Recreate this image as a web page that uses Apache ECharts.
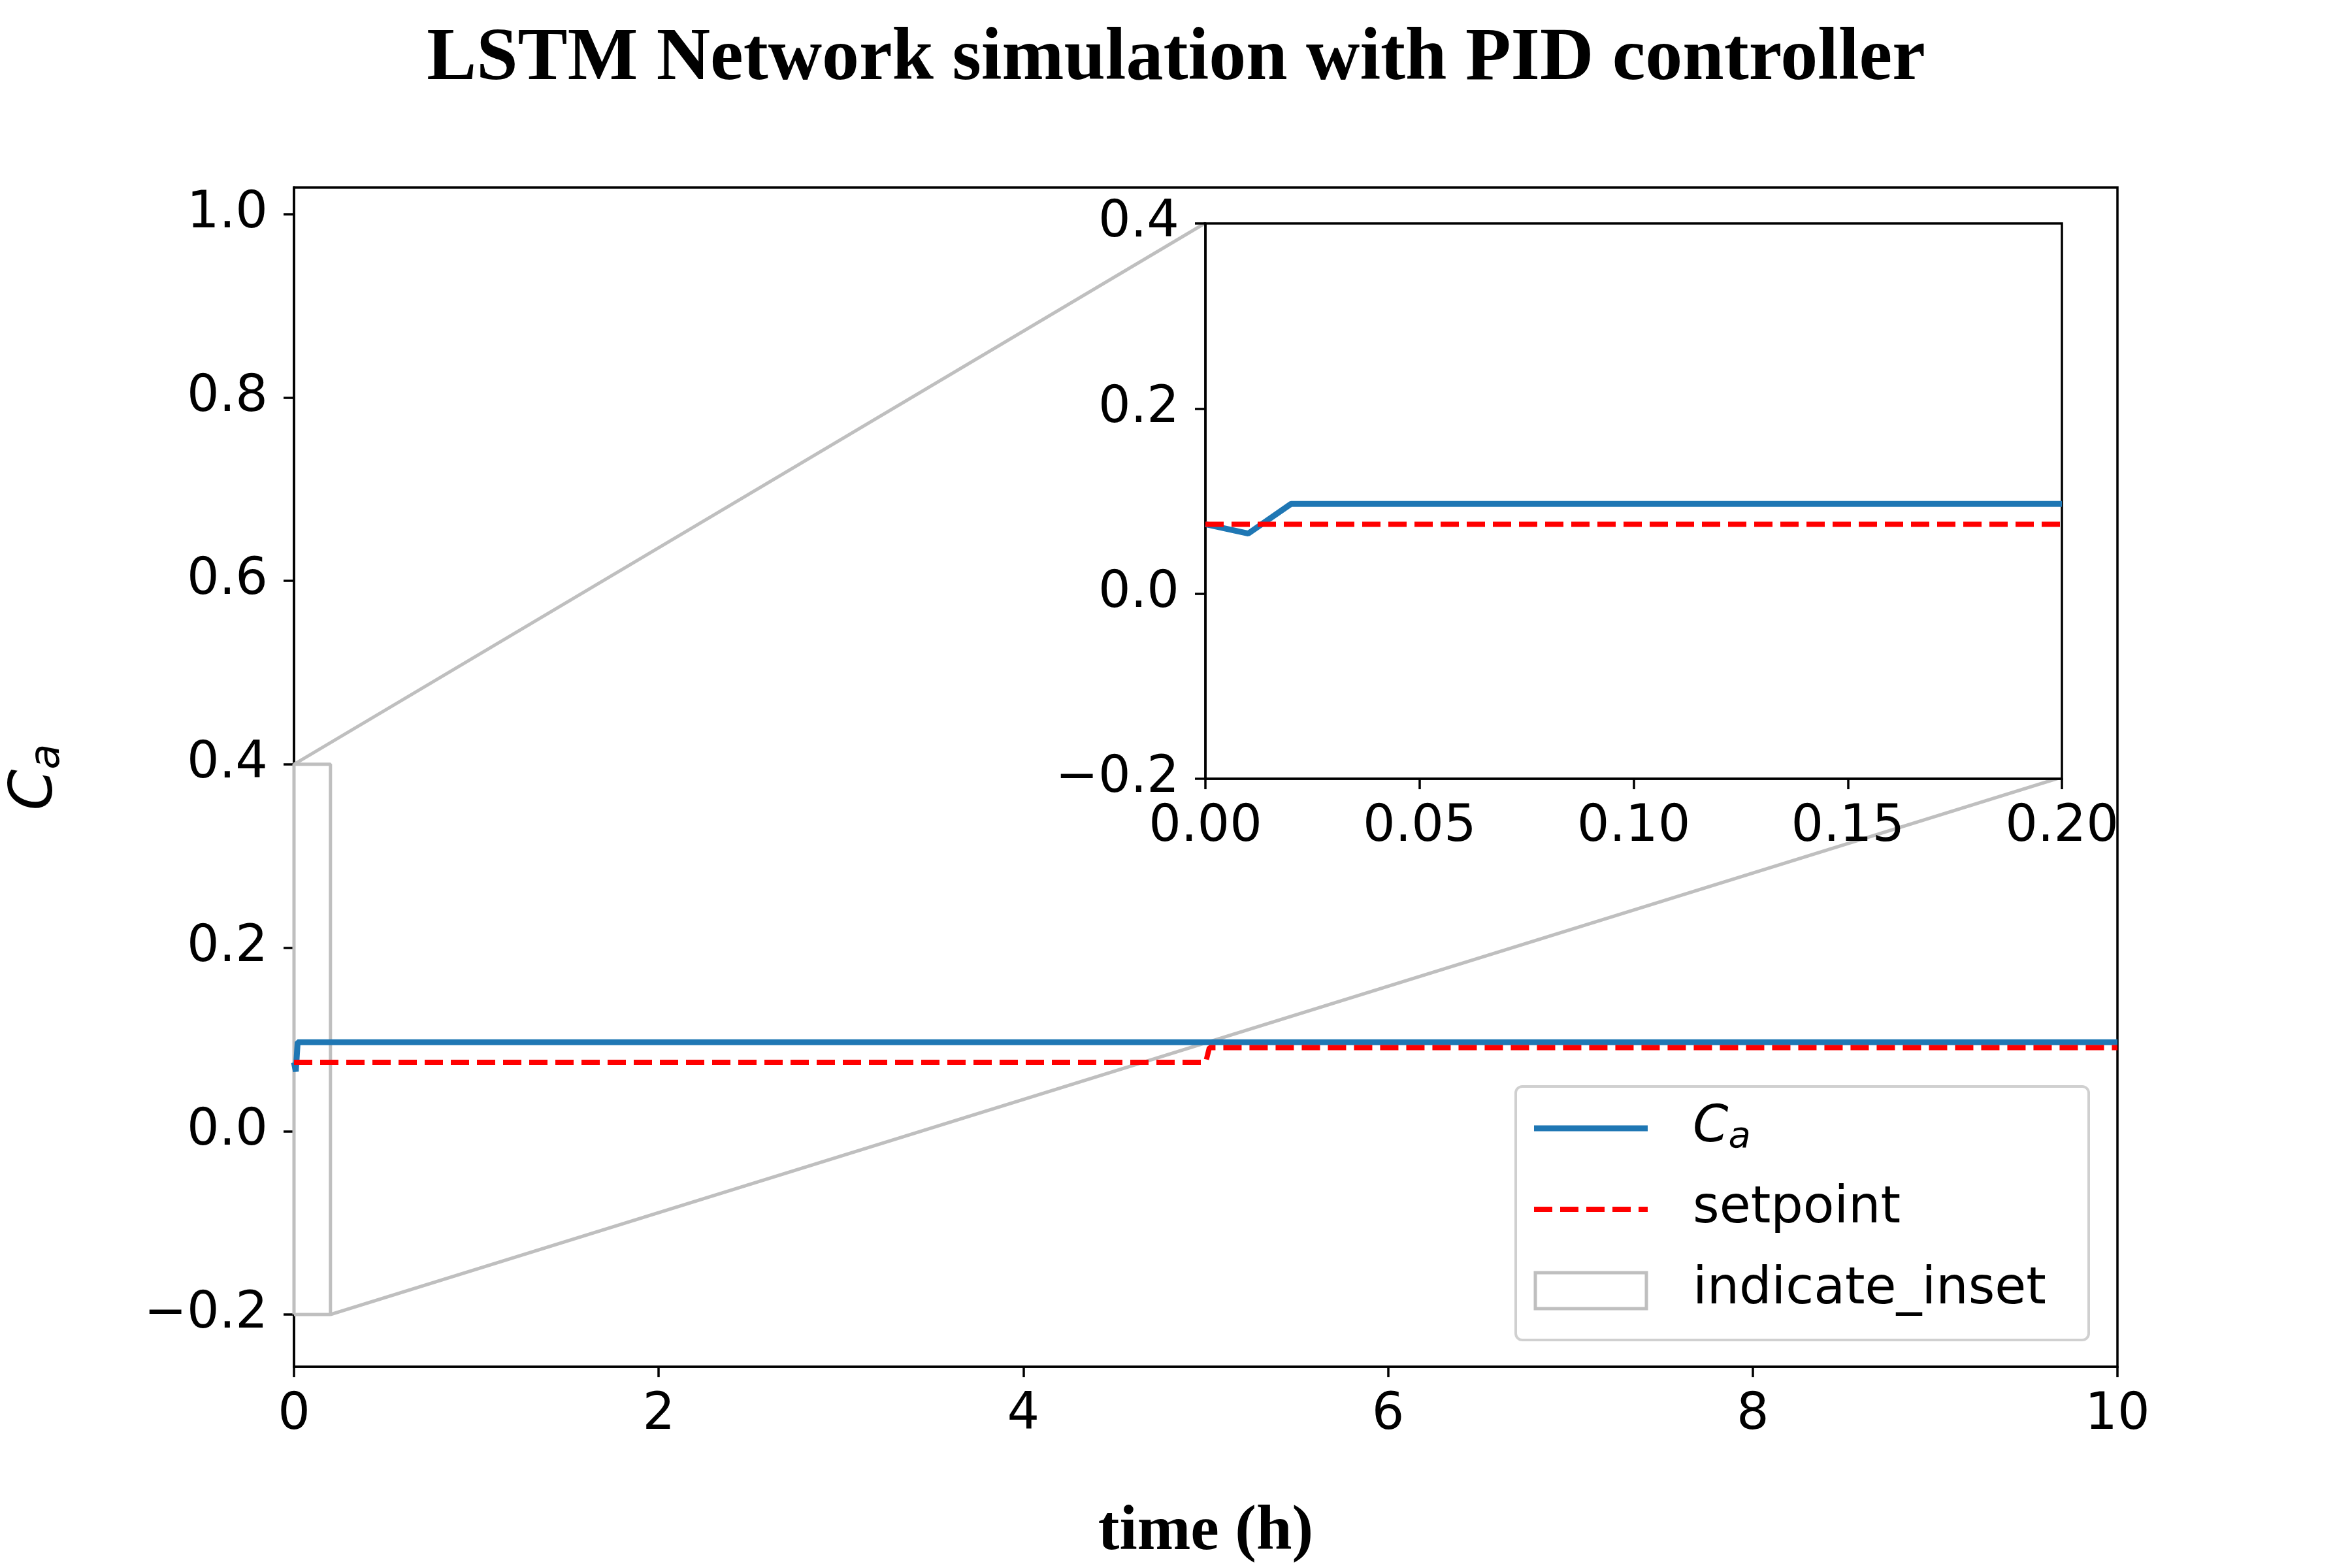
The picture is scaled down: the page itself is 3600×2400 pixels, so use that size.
<!DOCTYPE html>
<html>
<head>
<meta charset="UTF-8">
<title>LSTM Network simulation with PID controller</title>
<script src="https://cdn.jsdelivr.net/npm/echarts@6/dist/echarts.min.js"></script>
<style>
  html, body { margin: 0; padding: 0; background: #fff; }
  #chart { width: 3600px; height: 2400px; }
</style>
</head>
<body>
<div id="chart"></div>
<script>
// main plot data
const caMain = [[0, 0.075], [0.01, 0.065], [0.02, 0.097], [10, 0.097]];
const spMain = [[0, 0.075], [5.0, 0.075], [5.02, 0.091], [10, 0.091]];
// inset data (zoom 0..0.2)
const caInset = [[0, 0.075], [0.01, 0.065], [0.02, 0.097], [0.2, 0.097]];
const spInset = [[0, 0.075], [0.2, 0.075]];
// indicate_inset rectangle and connectors (main data coords)
const rectBox = [[0, -0.2], [0, 0.4], [0.2, 0.4], [0.2, -0.2], [0, -0.2]];
const connTop = [[0, 0.4], [4.996, 0.99]];
const connBottom = [[0.2, -0.2], [9.695, 0.386]];
const mainYTicks = [-0.2, 0, 0.2, 0.4, 0.6, 0.8, 1.0];
const mainXTicks = [0, 2, 4, 6, 8, 10];
const insetYTicks = [-0.2, 0, 0.2, 0.4];
const insetXTicks = [0, 0.05, 0.1, 0.15, 0.2];

const fmt = (d) => (v) => (v < 0 ? '\u2212' : '') + Math.abs(v).toFixed(d);
const font = 'DejaVu Sans';
const fs = 78;
const axisCommon = {
  axisLine: { show: true, onZero: false, lineStyle: { color: '#000', width: 3.5 } },
  axisTick: { show: true, inside: false, length: 16, lineStyle: { color: '#000', width: 3.5 } },
  splitLine: { show: false }
};

const chart = echarts.init(document.getElementById('chart'));
chart.setOption({
  backgroundColor: '#fff',
  animation: false,
  title: {
    text: 'LSTM Network simulation with PID controller',
    left: 'center', top: 30,
    textStyle: { fontFamily: 'Liberation Serif', fontWeight: 'bold', fontSize: 114, color: '#000' }
  },
  grid: [
    { left: 450, right: 359, top: 287, bottom: 303, show: true, borderColor: '#000', borderWidth: 3.5 },
    { left: 1845, right: 444, top: 342, bottom: 1208, show: true, backgroundColor: '#fff', borderColor: '#000', borderWidth: 3.5, z: 10 }
  ],
  xAxis: [
    Object.assign({}, axisCommon, {
      gridIndex: 0, type: 'value', min: 0, max: 10,
      axisTick: Object.assign({}, axisCommon.axisTick, { customValues: mainXTicks }),
      axisLabel: { customValues: mainXTicks, formatter: fmt(0), fontFamily: font, fontSize: fs, color: '#000', margin: 36 },
      name: 'time (h)', nameLocation: 'middle', nameGap: 205,
      nameTextStyle: { fontFamily: 'Liberation Serif', fontWeight: 'bold', fontSize: 98, color: '#000' }
    }),
    Object.assign({}, axisCommon, {
      gridIndex: 1, type: 'value', min: 0, max: 0.2, z: 11,
      axisTick: Object.assign({}, axisCommon.axisTick, { customValues: insetXTicks }),
      axisLabel: { customValues: insetXTicks, formatter: fmt(2), fontFamily: font, fontSize: fs, color: '#000', margin: 36 }
    })
  ],
  yAxis: [
    Object.assign({}, axisCommon, {
      gridIndex: 0, type: 'value', min: -0.257, max: 1.029,
      axisTick: Object.assign({}, axisCommon.axisTick, { customValues: mainYTicks }),
      axisLabel: { customValues: mainYTicks, formatter: fmt(1), fontFamily: font, fontSize: fs, color: '#000', margin: 40 },
      name: '{i|C}{s|a}', nameLocation: 'middle', nameGap: 345, nameRotate: 90,
      nameTextStyle: { rich: {
        i: { fontFamily: font, fontStyle: 'italic', fontSize: 90, color: '#000' },
        s: { fontFamily: font, fontStyle: 'italic', fontSize: 64, color: '#000', verticalAlign: 'bottom', padding: [34, 0, 0, 0] }
      } }
    }),
    Object.assign({}, axisCommon, {
      gridIndex: 1, type: 'value', min: -0.2, max: 0.4, z: 11,
      axisTick: Object.assign({}, axisCommon.axisTick, { customValues: insetYTicks }),
      axisLabel: { customValues: insetYTicks, formatter: fmt(1), fontFamily: font, fontSize: fs, color: '#000', margin: 40 }
    })
  ],
  series: [
    { type: 'line', xAxisIndex: 0, yAxisIndex: 0, data: rectBox, showSymbol: false, lineStyle: { color: '#bfbfbf', width: 5 }, z: 1 },
    { type: 'line', xAxisIndex: 0, yAxisIndex: 0, data: connTop, showSymbol: false, lineStyle: { color: '#bfbfbf', width: 5 }, z: 1 },
    { type: 'line', xAxisIndex: 0, yAxisIndex: 0, data: connBottom, showSymbol: false, lineStyle: { color: '#bfbfbf', width: 5 }, z: 1 },
    { name: 'Ca', type: 'line', xAxisIndex: 0, yAxisIndex: 0, data: caMain, showSymbol: false, lineStyle: { color: '#1f77b4', width: 9 }, z: 3 },
    { name: 'setpoint', type: 'line', xAxisIndex: 0, yAxisIndex: 0, data: spMain, showSymbol: false, lineStyle: { color: '#ff0000', width: 8, type: [28, 12] }, z: 4 },
    { type: 'line', xAxisIndex: 1, yAxisIndex: 1, data: caInset, showSymbol: false, lineStyle: { color: '#1f77b4', width: 9 }, z: 12 },
    { type: 'line', xAxisIndex: 1, yAxisIndex: 1, data: spInset, showSymbol: false, lineStyle: { color: '#ff0000', width: 8, type: [28, 12] }, z: 13 }
  ],
  graphic: [
    { type: 'rect', shape: { x: 2320, y: 1663, width: 877, height: 388, r: 10 }, style: { fill: 'rgba(255,255,255,0.8)', stroke: '#d0d0d0', lineWidth: 4 }, z: 50 },
    { type: 'line', shape: { x1: 2348, y1: 1727, x2: 2522, y2: 1727 }, style: { stroke: '#1f77b4', lineWidth: 9 }, z: 51 },
    { type: 'line', shape: { x1: 2348, y1: 1851, x2: 2522, y2: 1851 }, style: { stroke: '#ff0000', lineWidth: 8, lineDash: [28, 12] }, z: 51 },
    { type: 'rect', shape: { x: 2350, y: 1948, width: 170, height: 55 }, style: { fill: 'none', stroke: '#bfbfbf', lineWidth: 5 }, z: 51 },
    { type: 'text', x: 2591, y: 1727, style: { text: '{i|C}{s|a}', verticalAlign: 'middle', rich: {
        i: { fontFamily: font, fontStyle: 'italic', fontSize: fs, fill: '#000' },
        s: { fontFamily: font, fontStyle: 'italic', fontSize: 56, fill: '#000', padding: [28, 0, 0, 0] }
      } }, z: 52 },
    { type: 'text', x: 2591, y: 1851, style: { text: 'setpoint', fontFamily: font, fontSize: fs, fill: '#000', verticalAlign: 'middle' }, z: 52 },
    { type: 'text', x: 2591, y: 1975, style: { text: 'indicate_inset', fontFamily: font, fontSize: fs, fill: '#000', verticalAlign: 'middle' }, z: 52 }
  ]
});
</script>
</body>
</html>
